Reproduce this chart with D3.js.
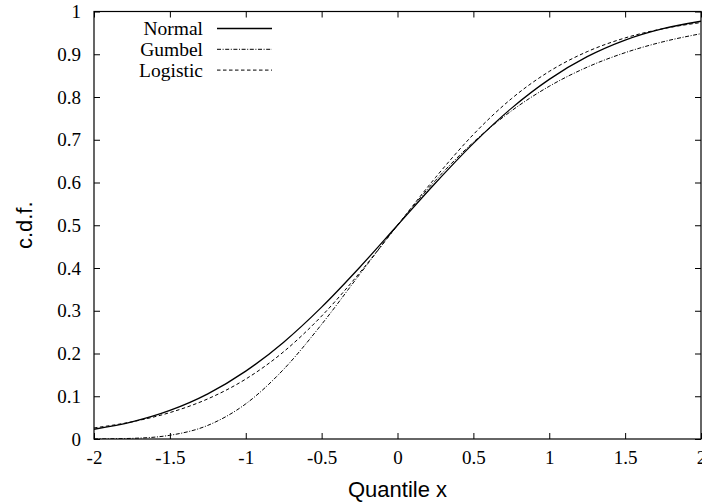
<!DOCTYPE html>
<html>
<head>
<meta charset="utf-8">
<script src="https://cdn.jsdelivr.net/npm/d3@7"></script>
<style>
  body { margin: 0; background: #fff; }
  svg { display: block; }
</style>
</head>
<body>
<svg id="chart" width="702" height="503"></svg>
<script>
// quantile positions and c.d.f. values
const quantiles = [-2, -1.75, -1.5, -1.25, -1, -0.75, -0.5, -0.25, 0, 0.25, 0.5, 0.75, 1, 1.25, 1.5, 1.75, 2];
const normalCdf = [0.0228, 0.0401, 0.0668, 0.1056, 0.1587, 0.2266, 0.3085, 0.4013, 0.5, 0.5987, 0.6915, 0.7734, 0.8413, 0.8944, 0.9332, 0.9599, 0.9772];
const gumbelCdf = [0.0001, 0.0015, 0.0087, 0.0319, 0.0822, 0.1631, 0.2682, 0.3848, 0.5, 0.6048, 0.6942, 0.7673, 0.8251, 0.8698, 0.9037, 0.9292, 0.9481];
const logisticCdf = [0.0259, 0.0402, 0.0618, 0.0939, 0.1402, 0.2042, 0.2876, 0.3885, 0.5, 0.6115, 0.7124, 0.7958, 0.8598, 0.9061, 0.9382, 0.9598, 0.9741];

const xTicks = [-2, -1.5, -1, -0.5, 0, 0.5, 1, 1.5, 2];
const yTicks = [0, 0.1, 0.2, 0.3, 0.4, 0.5, 0.6, 0.7, 0.8, 0.9, 1];

const series = [
  { name: 'Normal', values: normalCdf, dash: null },
  { name: 'Gumbel', values: gumbelCdf, dash: '4,1.6,1,1.6' },
  { name: 'Logistic', values: logisticCdf, dash: '3.5,2.5' },
];

const svg = d3.select('#chart');
const margin = { top: 11.5, right: 1, bottom: 64, left: 94 };
const width = 702 - margin.left - margin.right;
const height = 503 - margin.top - margin.bottom;

const g = svg.append('g').attr('transform', `translate(${margin.left},${margin.top})`);

const x = d3.scaleLinear().domain([-2, 2]).range([0, width]);
const y = d3.scaleLinear().domain([0, 1]).range([height, 0]);

const serif = 'Liberation Serif, Times New Roman, serif';
const sans = 'Liberation Sans, Arial, Helvetica, sans-serif';

// plain hyphen minus like gnuplot, not d3's unicode minus
const fmt = d => String(d);

// axes, ticks pointing inward, mirrored on top/right
g.append('g')
  .attr('transform', `translate(0,${height})`)
  .call(d3.axisBottom(x).tickValues(xTicks).tickFormat(fmt).tickSizeInner(-6).tickSizeOuter(0).tickPadding(12));
g.append('g')
  .call(d3.axisTop(x).tickValues(xTicks).tickFormat('').tickSizeInner(-6).tickSizeOuter(0));
g.append('g')
  .call(d3.axisLeft(y).tickValues(yTicks).tickFormat(fmt).tickSizeInner(-6).tickSizeOuter(0).tickPadding(13));
g.append('g')
  .attr('transform', `translate(${width},0)`)
  .call(d3.axisRight(y).tickValues(yTicks).tickFormat('').tickSizeInner(-6).tickSizeOuter(0));

g.selectAll('.domain').remove();
g.selectAll('.tick line').attr('stroke', '#000');
g.selectAll('.tick text')
  .attr('fill', '#000')
  .style('font-family', serif)
  .style('font-size', '19px');

g.append('rect')
  .attr('width', width)
  .attr('height', height)
  .attr('fill', 'none')
  .attr('stroke', '#000')
  .attr('stroke-width', 1.2);

// curves
g.append('clipPath').attr('id', 'plot-clip')
  .append('rect').attr('width', width).attr('height', height);

const line = d3.line()
  .x((d, i) => x(quantiles[i]))
  .y(d => y(d))
  .curve(d3.curveMonotoneX);

g.append('g').attr('clip-path', 'url(#plot-clip)')
  .selectAll('path')
  .data(series)
  .join('path')
  .attr('d', d => line(d.values))
  .attr('fill', 'none')
  .attr('stroke', '#000')
  .attr('stroke-width', d => d.dash ? 1 : 1.3)
  .attr('stroke-dasharray', d => d.dash);

// legend
const legend = g.append('g').attr('transform', `translate(${203 - margin.left},${28.5 - margin.top})`);
const row = legend.selectAll('g')
  .data(series)
  .join('g')
  .attr('transform', (d, i) => `translate(0,${i * 20.8})`);
row.append('text')
  .attr('text-anchor', 'end')
  .attr('dy', '0.35em')
  .style('font-family', serif)
  .style('font-size', '19.5px')
  .text(d => d.name);
row.append('line')
  .attr('x1', 14).attr('x2', 69)
  .attr('stroke', '#000')
  .attr('stroke-width', d => d.dash ? 1 : 1.3)
  .attr('stroke-dasharray', d => d.dash);

// axis titles
svg.append('text')
  .attr('x', margin.left + x(0))
  .attr('y', 497)
  .attr('text-anchor', 'middle')
  .style('font-family', sans)
  .style('font-size', '22px')
  .text('Quantile x');

svg.append('text')
  .attr('transform', `translate(32,${margin.top + y(0.5)}) rotate(-90)`)
  .attr('text-anchor', 'middle')
  .style('font-family', sans)
  .style('font-size', '22px')
  .text('c.d.f.');
</script>
</body>
</html>
